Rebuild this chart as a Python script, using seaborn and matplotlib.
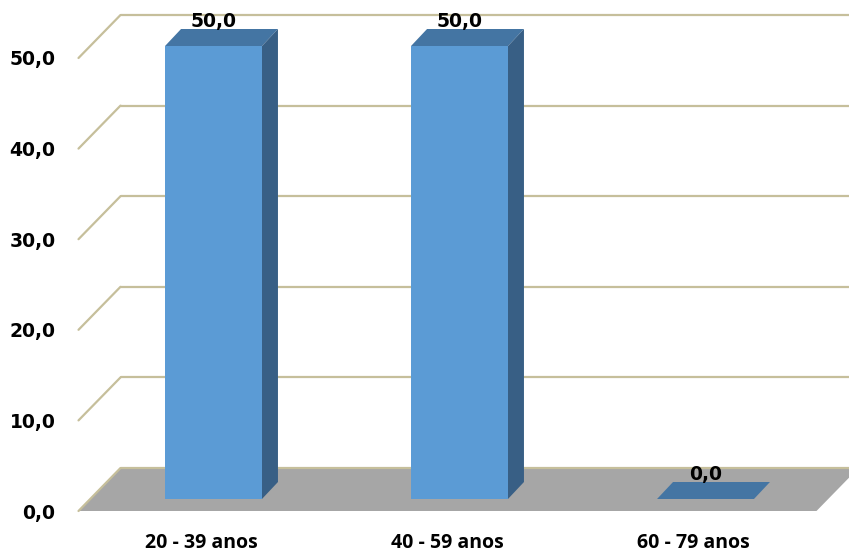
import matplotlib
matplotlib.use("Agg")
import matplotlib.pyplot as plt
from matplotlib.patches import Polygon
from matplotlib.lines import Line2D
from matplotlib.transforms import Affine2D, IdentityTransform
import seaborn as sns
import pandas as pd

# Data
categories = ["20 - 39 anos", "40 - 59 anos", "60 - 79 anos"]
values = [50.0, 50.0, 0.0]
y_ticks = [0, 10, 20, 30, 40, 50]
y_tick_labels = ["0,0", "10,0", "20,0", "30,0", "40,0", "50,0"]

# Styling
FRONT = "#5B9BD5"
TOP = "#4475A3"
SIDE = "#385F85"
FLOOR = "#A6A6A6"
GRID = "#C6BF9B"
DPI = 100
W, H = 849, 556
PX = 72 / DPI  # points per pixel

# pseudo-3D geometry in pixels
WALL_DX, WALL_DY = 42, 43      # front plane -> back wall
BAR_DX, BAR_DY = 12, 12        # front plane -> bar front face
DEPTH_DX, DEPTH_DY = 16, 17    # bar depth

sns.set_theme(style="white")
plt.rcParams["font.family"] = ["DejaVu Sans"]
plt.rcParams["text.color"] = "black"
plt.rcParams["xtick.color"] = "black"
plt.rcParams["ytick.color"] = "black"

df = pd.DataFrame({"faixa": categories, "valor": values})

fig = plt.figure(figsize=(W / DPI, H / DPI), dpi=DPI)
ax = fig.add_axes([78.5 / W, 45 / H, 738 / W, 453 / H])

sns.barplot(data=df, x="faixa", y="valor", color=FRONT, width=0.394,
            saturation=1, ax=ax, zorder=4, edgecolor="none")
ax.set_xlim(-0.5, 2.5)
ax.set_ylim(0, 50)
for s in ax.spines.values():
    s.set_visible(False)
ax.set_xlabel("")
ax.set_ylabel("")
ax.set_yticks(y_ticks)
ax.set_yticklabels(y_tick_labels, fontsize=13.5, fontweight="bold",
                   family="DejaVu Sans", color="black")
ax.tick_params(axis="y", length=0, pad=16.5)
ax.tick_params(axis="x", length=0, pad=15.5)
ax.set_xticks(range(len(categories)))
ax.set_xticklabels(categories, fontsize=14, fontweight="bold",
                   family="Open Sans", color="black")
ax.patch.set_visible(False)

fig.canvas.draw()
ident = IdentityTransform()


def disp(x, y):
    return ax.transData.transform((x, y))


def add_poly(pts, color, z):
    ax.add_patch(Polygon(pts, closed=True, facecolor=color, edgecolor="none",
                         transform=ident, zorder=z, clip_on=False))


def add_line(xs, ys):
    ax.add_line(Line2D(xs, ys, color=GRID, lw=1.6, transform=ident,
                       zorder=1, clip_on=False))


# floor
fl = disp(-0.5, 0)
fr = disp(2.5, 0)
add_poly([fl, fr, (fr[0] + WALL_DX, fr[1] + WALL_DY),
          (fl[0] + WALL_DX, fl[1] + WALL_DY)], FLOOR, 0)

# back wall gridlines with diagonal connectors on the left
for v in y_ticks:
    p = disp(-0.5, v)
    q = (p[0] + WALL_DX, p[1] + WALL_DY)
    add_line([p[0], q[0]], [p[1], q[1]])
    add_line([q[0], W + 10], [q[1], q[1]])

# bars: shift front faces into the bar plane, add top and side faces
shift = Affine2D().translate(BAR_DX, BAR_DY)
bar_patches = list(ax.patches)[:len(values)]
for patch, v in zip(bar_patches, values):
    x0, w = patch.get_x(), patch.get_width()
    patch.set_transform(ax.transData + shift)
    patch.set_clip_on(False)
    a = disp(x0, 0) + (BAR_DX, BAR_DY)
    b = disp(x0 + w, v) + (BAR_DX, BAR_DY)
    add_poly([(a[0], b[1]), (b[0], b[1]),
              (b[0] + DEPTH_DX, b[1] + DEPTH_DY),
              (a[0] + DEPTH_DX, b[1] + DEPTH_DY)], TOP, 3)
    if v > 0:
        add_poly([(b[0], a[1]), (b[0], b[1]),
                  (b[0] + DEPTH_DX, b[1] + DEPTH_DY),
                  (b[0] + DEPTH_DX, a[1] + DEPTH_DY)], SIDE, 3)
    # value label just above the back edge of the bar top
    ax.annotate(f"{v:.1f}".replace(".", ","), xy=(x0 + w / 2, v),
                xytext=(BAR_DX * PX, (BAR_DY + 19) * PX),
                textcoords="offset points",
                ha="center", va="baseline", fontsize=13.5, fontweight="bold",
                color="black", zorder=6, annotation_clip=False)

fig.savefig("out.png", dpi=DPI)
